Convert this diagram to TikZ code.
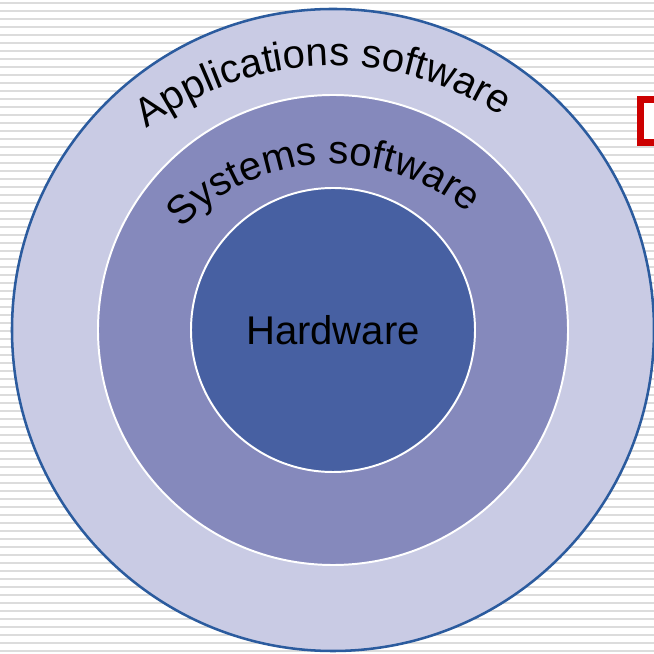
\documentclass[tikz,border=0pt]{standalone}
\usepackage{fontspec}
\setmainfont{Liberation Sans}
\usetikzlibrary{decorations.text}
\definecolor{appfill}{HTML}{C9CBE4}
\definecolor{sysfill}{HTML}{8589BC}
\definecolor{hwfill}{HTML}{4760A2}
\definecolor{rimblue}{HTML}{2B5B9E}
\definecolor{stripegray}{HTML}{DCDCDC}
\definecolor{bulletred}{HTML}{CC0000}
\newcommand{\ringfont}{\fontsize{28.5}{34}\selectfont}

\begin{document}
\begin{tikzpicture}[
  layer/.style={circle, draw=white, line width=1.4pt, inner sep=0pt},
  ringtext/.style={decorate, decoration={text along path, text align=center, text={|\ringfont|#1}}}]
  \useasboundingbox (-8.325,-8.1) rectangle (8.025,8.25);
  \clip (-8.325,-8.1) rectangle (8.025,8.25);
  % striped background
  \fill[white] (-8.325,-8.1) rectangle (8.025,8.25);
  \foreach \k in {0,...,81}
    \draw[stripegray, line width=1.4pt] (-8.325,8.1675-0.2*\k) -- (8.025,8.1675-0.2*\k);
  % bullet box cut off at the edge
  \draw[bulletred, fill=white, line width=5pt] (7.6875,4.6875) rectangle (8.6,5.7625);
  % the three layers
  \node[layer, draw=rimblue, line width=1.8pt, fill=appfill, minimum size=16.05cm] (apps) at (0,0) {};
  \node[layer, fill=sysfill, minimum size=11.75cm] (sys) at (0,0) {};
  \node[layer, fill=hwfill, minimum size=7.1cm, font=\ringfont] (hw) at (0,0) {Hardware};
  % curved labels
  \path[ringtext={Applications software}] (0,-1.05) ++(152:7.65) arc[start angle=152, end angle=32, radius=7.65];
  \path[ringtext={Systems software}] (0,-1.1) ++(153:5.25) arc[start angle=153, end angle=33, radius=5.25];
\end{tikzpicture}
\end{document}
